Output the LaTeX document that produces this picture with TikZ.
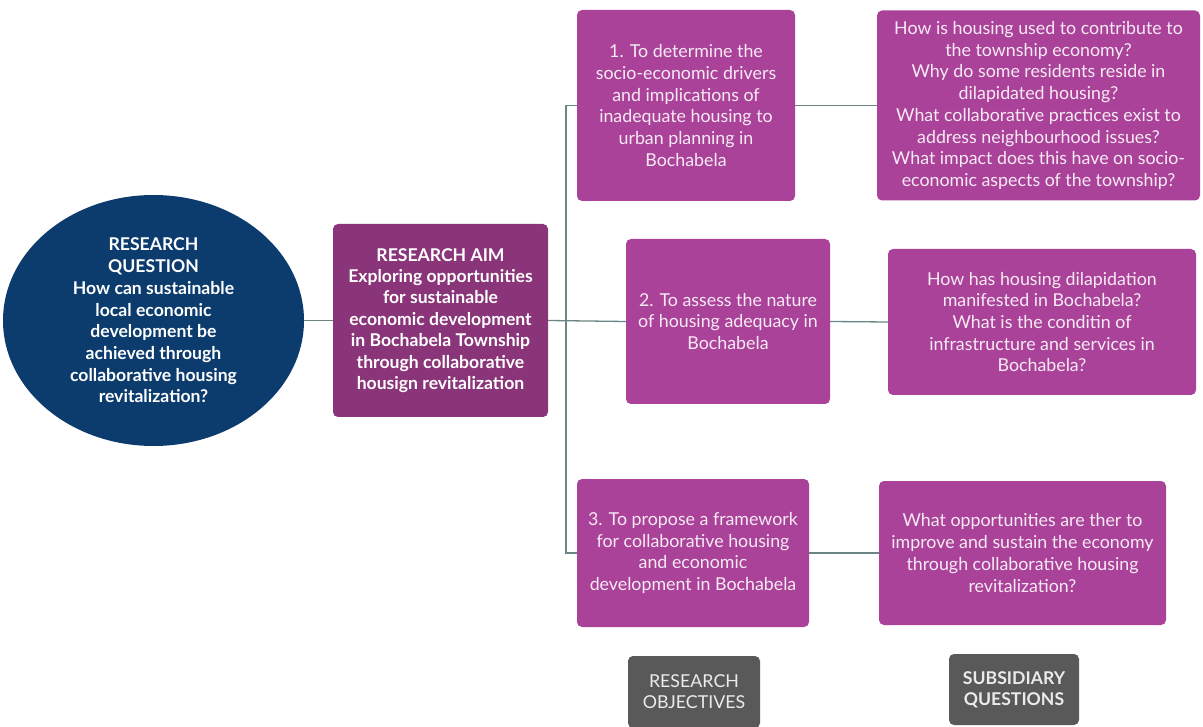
\documentclass[tikz,border=0pt]{standalone}
\usepackage{fontspec}
\setmainfont{Lato}
\usetikzlibrary{shapes.geometric}
\definecolor{qblue}{HTML}{0C3C6E}
\definecolor{aimpurple}{HTML}{8A3579}
\definecolor{objpurple}{HTML}{AB4299}
\definecolor{labelgray}{HTML}{595959}
\definecolor{linkgray}{HTML}{6B8584}
\definecolor{boxtext}{HTML}{F6EAF4}
\begin{document}
\begin{tikzpicture}[x=1pt,y=-1pt,
  every node/.style={font=\fontsize{17.8}{21.7}\selectfont, align=center, inner sep=0pt},
  card/.style={fill=objpurple, text=boxtext, rounded corners=5pt},
  aimcard/.style={fill=aimpurple, text=white, rounded corners=5pt, font=\fontsize{17.6}{21.4}\selectfont\bfseries},
  tag/.style={fill=labelgray, text=white!92!black, rounded corners=5pt, font=\fontsize{17.8}{21}\selectfont},
  link/.style={draw=linkgray, line width=1.3pt}]
\useasboundingbox (0,0) rectangle (1203,727);

% research question
\node[ellipse, fill=qblue, text=white, minimum width=301pt, minimum height=251pt,
      font=\fontsize{17.6}{21.7}\selectfont\bfseries] (rq) at (153.5,320.5)
  {RESEARCH\\QUESTION\\How can sustainable\\local economic\\development be\\achieved through\\collaborative housing\\revitalization?};

% research aim
\node[aimcard, minimum width=215pt, minimum height=193pt] (aim) at (440.5,320.5)
  {RESEARCH AIM\\Exploring opportunities\\for sustainable\\economic development\\in Bochabela Township\\through collaborative\\housign revitalization};

% objectives
\node[card, minimum width=218pt, minimum height=191pt] (obj1) at (686,105.5)
  {1. To determine the\\socio-economic drivers\\and implications of\\inadequate housing to\\urban planning in\\Bochabela};
\node[card, minimum width=204pt, minimum height=165pt] (obj2) at (728,321.5)
  {2. To assess the nature\\of housing adequacy in\\Bochabela};
\node[card, minimum width=232pt, minimum height=148pt] (obj3) at (693,553)
  {3. To propose a framework\\for collaborative housing\\and economic\\development in Bochabela};

% subsidiary questions
\node[card, minimum width=323pt, minimum height=190pt] (q1) at (1038.5,105.5)
  {How is housing used to contribute to\\the township economy?\\Why do some residents reside in\\dilapidated housing?\\What collaborative practices exist to\\address neighbourhood issues?\\What impact does this have on socio-\\economic aspects of the township?};
\node[card, minimum width=308pt, minimum height=146pt] (q2) at (1042,322)
  {How has housing dilapidation\\manifested in Bochabela?\\What is the conditin of\\infrastructure and services in\\Bochabela?};
\node[card, minimum width=287pt, minimum height=144pt] (q3) at (1022.5,553)
  {What opportunities are ther to\\improve and sustain the economy\\through collaborative housing\\revitalization?};

% column labels
\node[tag, minimum width=132pt, minimum height=72pt] (lobj) at (694,692)
  {RESEARCH\\OBJECTIVES};
\node[tag, minimum width=130pt, minimum height=71pt, font=\fontsize{17.6}{21}\selectfont\bfseries] (lsub) at (1014,689.5)
  {SUBSIDIARY\\QUESTIONS};

% connectors
\coordinate (trunk) at (566,321);
\draw[link] (rq.east) -- (aim.west);
\draw[link] (aim.east) -- (obj2.west);
\draw[link] (obj1.west) -| (trunk) |- (obj3.west);
\draw[link] (obj1.east) -- (q1.west);
\draw[link] (obj2.east) -- (q2.west);
\draw[link] (obj3.east) -- (q3.west);
\end{tikzpicture}
\end{document}
